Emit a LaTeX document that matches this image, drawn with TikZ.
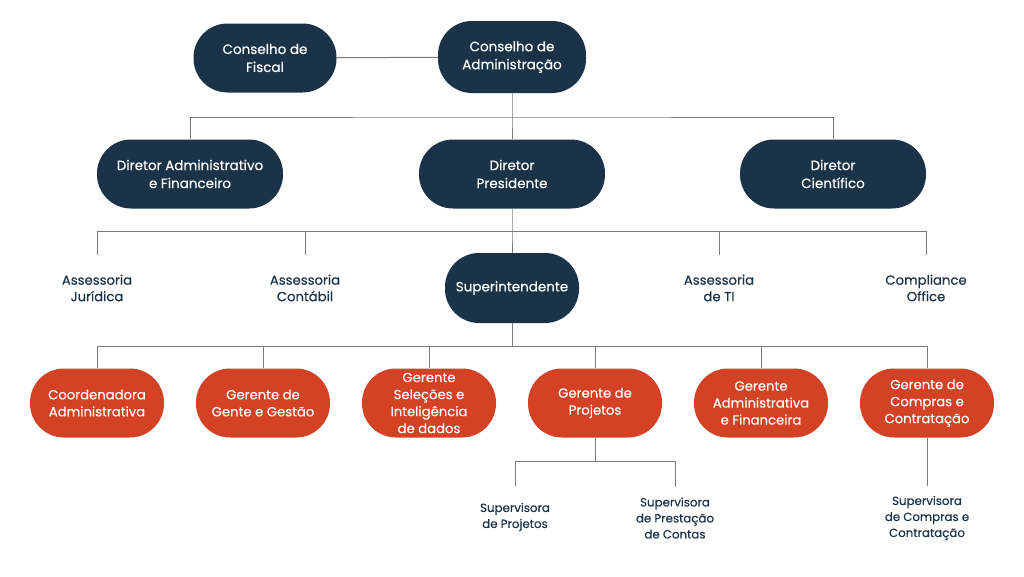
\documentclass[tikz,border=0pt]{standalone}
\usepackage{fontspec}
\setmainfont{Poppins}[FakeBold=0.3]
\usepackage{xcolor}
\usetikzlibrary{positioning}
\definecolor{navy}{HTML}{1B3349}
\definecolor{laranja}{HTML}{D44226}
\definecolor{linha}{HTML}{7A7A7A}

\begin{document}
\begin{tikzpicture}[x=1pt, y=-1pt,
    diretoria/.style={fill=navy, text=white, rounded corners=34pt, minimum height=69pt,
        align=center, inner sep=0pt, font=\fontsize{13.5}{18}\selectfont},
    gerencia/.style={fill=laranja, text=white, rounded corners=34pt, minimum width=134pt,
        minimum height=69pt, align=center, inner sep=0pt, font=\fontsize{13.2}{17}\selectfont},
    apoio/.style={text=navy, align=center, inner sep=0pt, font=\fontsize{13.2}{16.5}\selectfont},
    supervisao/.style={text=navy, align=center, inner sep=0pt, font=\fontsize{11.8}{16}\selectfont},
    linha/.style={draw=linha, line width=1pt}]
                \fill[white] (0,0) rectangle (1024,576);
                \useasboundingbox (0,0) rectangle (1024,576);

                % conselhos
                \node[diretoria, minimum width=143pt] (cf) at (265, 58) {Conselho de\\Fiscal};
                \node[diretoria, minimum width=148pt, minimum height=72pt] (ca) at (512, 57) {Conselho de\\Administração};

                % diretores
                \node[diretoria, minimum width=186pt] (daf) at (190, 174) {Diretor Administrativo\\e Financeiro};
                \node[diretoria, minimum width=186pt] (dp) at (512, 174) {Diretor\\Presidente};
                \node[diretoria, minimum width=186pt] (dc) at (833, 174) {Diretor\\Científico};

                % assessorias
                \node[apoio] (aj) at (97, 288) {Assessoria\\Jurídica};
                \node[apoio] (ac) at (305, 288) {Assessoria\\Contábil};
                \node[diretoria, minimum width=134pt, minimum height=70pt] (sup) at (512, 288) {Superintendente};
                \node[apoio] (ati) at (719, 288) {Assessoria\\de TI};
                \node[apoio] (co) at (926, 288) {Compliance\\Office};

                % gerencias
                \node[gerencia] (cad) at (97, 403) {Coordenadora\\Administrativa};
                \node[gerencia] (ggg) at (263, 403) {Gerente de\\Gente e Gestão};
                \node[gerencia] (gsi) at (429, 403) {Gerente\\Seleções e\\Inteligência\\de dados};
                \node[gerencia] (gp) at (595, 403) {Gerente de\\Projetos};
                \node[gerencia] (gaf) at (761, 403) {Gerente\\Administrativa\\e Financeira};
                \node[gerencia] (gcc) at (927, 403) {Gerente de\\Compras e\\Contratação};

                % supervisoras
                \node[supervisao] (sp) at (515, 517) {Supervisora\\de Projetos};
                \node[supervisao] (spc) at (675, 518) {Supervisora\\de Prestação\\de Contas};
                \node[supervisao] (scc) at (927, 518) {Supervisora\\de Compras e\\Contratação};

                % ligacoes
                \coordinate (b1) at (512, 117);
                \coordinate (b2) at (512, 231);
                \coordinate (b3) at (512, 346);
                \coordinate (b4) at (595, 461);

                \draw[linha] (cf) -- (ca);
                \draw[linha] (ca) -- (b1) -- (dp);
                \draw[linha] (daf.north) |- (b1) -| (dc.north);

                \draw[linha] (dp) -- (b2) -- (sup);
                \draw[linha, shorten >=19pt] (b2) -| (aj.north);
                \draw[linha, shorten >=19pt] (b2) -| (ac.north);
                \draw[linha, shorten >=19pt] (b2) -| (ati.north);
                \draw[linha, shorten >=19pt] (b2) -| (co.north);

                \draw[linha] (sup) -- (b3);
                \foreach \g in {cad, ggg, gsi, gp, gaf, gcc}
                    \draw[linha] (b3) -| (\g.north);

                \draw[linha] (gp) -- (b4);
                \draw[linha, shorten >=17pt] (b4) -| (sp.north);
                \draw[linha, shorten >=10pt] (b4) -| (spc.north);
                \draw[linha, shorten >=10pt] (gcc) -- (scc.north);
            \end{tikzpicture}
\end{document}
